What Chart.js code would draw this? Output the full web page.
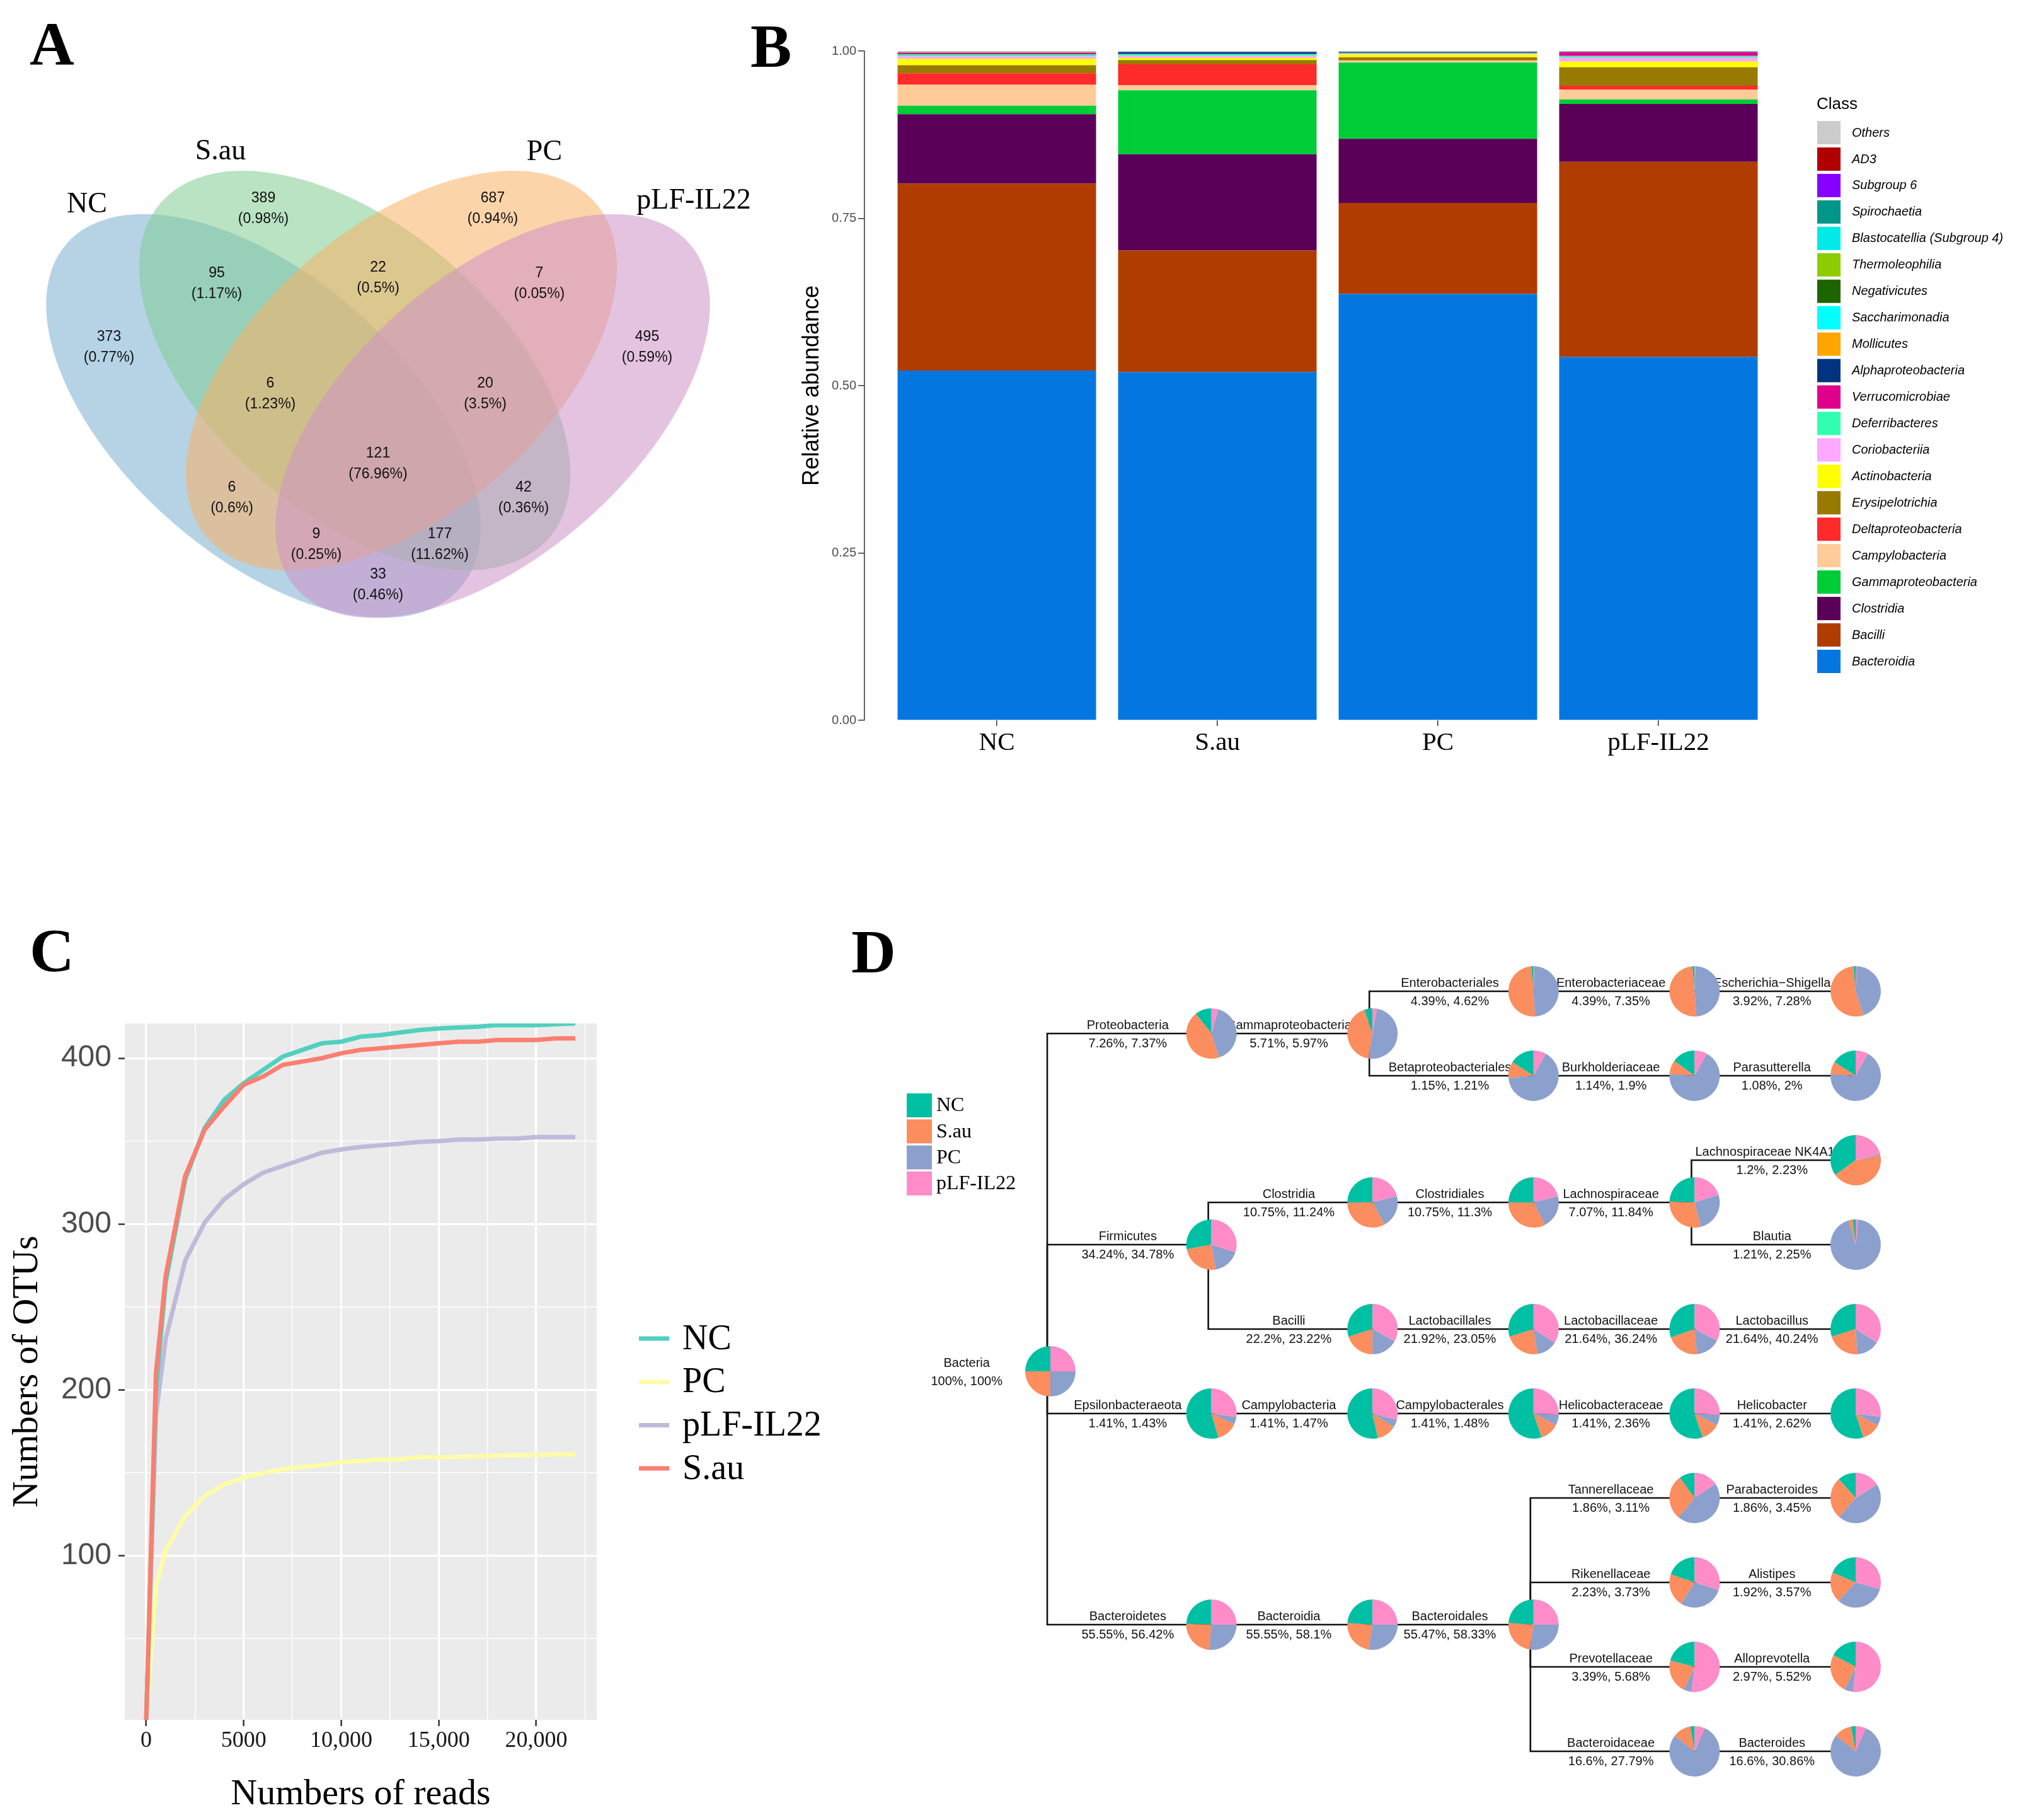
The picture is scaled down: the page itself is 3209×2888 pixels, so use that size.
<!DOCTYPE html>
<html>
<head>
<meta charset="utf-8">
<script src="https://cdn.jsdelivr.net/npm/chart.js@4.4.1/dist/chart.umd.min.js"></script>
<style>
body{margin:0;background:#fff;}
#page{position:relative;width:3209px;height:2888px;overflow:hidden;background:#fff;}
canvas{position:absolute;}
.letter{position:absolute;font-family:"Liberation Serif","Times New Roman",serif;font-weight:bold;font-size:98px;line-height:1;color:#000;}
</style>
</head>
<body>
<div id="page">
<div class="letter" style="left:47px;top:20px">A</div>
<div class="letter" style="left:1191px;top:24px">B</div>
<div class="letter" style="left:47px;top:1459px">C</div>
<div class="letter" style="left:1351px;top:1461px">D</div>
<canvas id="venn" width="1200" height="1000" style="left:0;top:0"></canvas>
<canvas id="bars" width="2029" height="1260" style="left:1180px;top:0"></canvas>
<canvas id="rare" width="1350" height="1438" style="left:0;top:1450px"></canvas>
<canvas id="tree" width="1859" height="1438" style="left:1350px;top:1450px"></canvas>
</div>
<script>
Chart.defaults.font.family = '"Liberation Sans", Arial, sans-serif';

// ---------- data ----------

// A: venn
const vennSets = ['NC', 'S.au', 'PC', 'pLF-IL22'];
const vennRegions = ['NC', 'S.au', 'PC', 'pLF-IL22', 'NC&S.au', 'S.au&PC', 'PC&pLF-IL22',
    'NC&S.au&PC', 'S.au&PC&pLF-IL22', 'all', 'NC&PC', 'S.au&pLF-IL22',
    'NC&PC&pLF-IL22', 'NC&S.au&pLF-IL22', 'NC&pLF-IL22'];
const vennCounts = [373, 389, 687, 495, 95, 22, 7, 6, 20, 121, 6, 42, 9, 177, 33];
const vennPercents = ['0.77%', '0.98%', '0.94%', '0.59%', '1.17%', '0.5%', '0.05%',
    '1.23%', '3.5%', '76.96%', '0.6%', '0.36%', '0.25%', '11.62%', '0.46%'];

// B: relative abundance, classes from bottom of the stack to top
const groups = ['NC', 'S.au', 'PC', 'pLF-IL22'];
const classes = ['Bacteroidia', 'Bacilli', 'Clostridia', 'Gammaproteobacteria', 'Campylobacteria',
    'Deltaproteobacteria', 'Erysipelotrichia', 'Actinobacteria', 'Coriobacteriia', 'Deferribacteres',
    'Verrucomicrobiae', 'Alphaproteobacteria', 'Mollicutes', 'Saccharimonadia', 'Negativicutes',
    'Thermoleophilia', 'Blastocatellia (Subgroup 4)', 'Spirochaetia', 'Subgroup 6', 'AD3', 'Others'];
const abundNC = [0.5227, 0.2793, 0.1036, 0.0126, 0.0314, 0.0173, 0.0119, 0.0094, 0.0038, 0.0028,
    0.0025, 0.0003, 0.0002, 0.0002, 0.0002, 0.0001, 0.0001, 0.0002, 0.0001, 0.0001, 0.0011];
const abundSau = [0.5205, 0.1814, 0.1440, 0.0955, 0.0075, 0.0314, 0.0063, 0.0031, 0.0031, 0.0025,
    0.0005, 0.0025, 0.0001, 0.0001, 0.0001, 0.0001, 0.0001, 0.0001, 0.0001, 0.0001, 0.0009];
const abundPC = [0.6370, 0.1360, 0.0958, 0.1140, 0.0031, 0.0005, 0.0041, 0.0044, 0.0010, 0.0008,
    0.0003, 0.0012, 0.0002, 0.0001, 0.0002, 0.0001, 0.0001, 0.0004, 0.0001, 0.0001, 0.0005];
const abundPLF = [0.5428, 0.2916, 0.0865, 0.0069, 0.0148, 0.0056, 0.0276, 0.0085, 0.0063, 0.0022,
    0.0056, 0.0002, 0.0001, 0.0001, 0.0001, 0.0001, 0.0001, 0.0002, 0.0001, 0.0001, 0.0005];
const yTicksB = [0, 0.25, 0.5, 0.75, 1];

// C: rarefaction curves
const curveNames = ['NC', 'PC', 'pLF-IL22', 'S.au'];
const readDepth = [1, 500, 1000, 2000, 3000, 4000, 5000, 6000, 7000, 8000, 9000, 10000, 11000,
    12000, 13000, 14000, 15000, 16000, 17000, 18000, 19000, 20000, 21000, 22000];
const otuNC = [1, 200, 265, 327, 358, 375, 385, 393, 401, 405, 409, 410, 413, 414, 415.5, 417,
    418, 418.5, 419, 420, 420, 420, 420.5, 421];
const otuPC = [1, 82, 103, 124, 136, 143, 147, 150, 152, 153.5, 154.5, 156.5, 157, 158, 158,
    159.5, 159.3, 159.6, 160, 160.3, 160.6, 160.6, 161, 161];
const otuPLF = [1, 185, 231, 278, 301, 315, 324, 331, 335, 339, 343, 345, 346.5, 347.5, 348.5,
    349.5, 350, 351, 351, 351.5, 351.5, 352.5, 352.5, 352.5];
const otuSau = [1, 210, 269, 329, 357, 371, 384, 389, 396, 398, 400, 403, 405, 406, 407, 408,
    409, 410, 410, 411, 411, 411, 412, 412];
const xTicksC = [0, 2500, 5000, 7500, 10000, 12500, 15000, 17500, 20000, 22500];
const yTicksC = [50, 100, 150, 200, 250, 300, 350, 400];

// D: taxonomy tree, parent -1 is the root
const treeNames = ['Bacteria', 'Proteobacteria', 'Gammaproteobacteria', 'Enterobacteriales',
    'Enterobacteriaceae', 'Escherichia\u2212Shigella', 'Betaproteobacteriales', 'Burkholderiaceae',
    'Parasutterella', 'Firmicutes', 'Clostridia', 'Clostridiales', 'Lachnospiraceae',
    'Lachnospiraceae NK4A136', 'Blautia', 'Bacilli', 'Lactobacillales', 'Lactobacillaceae',
    'Lactobacillus', 'Epsilonbacteraeota', 'Campylobacteria', 'Campylobacterales',
    'Helicobacteraceae', 'Helicobacter', 'Bacteroidetes', 'Bacteroidia', 'Bacteroidales',
    'Tannerellaceae', 'Parabacteroides', 'Rikenellaceae', 'Alistipes', 'Prevotellaceae',
    'Alloprevotella', 'Bacteroidaceae', 'Bacteroides'];
const treePercents = ['100%, 100%', '7.26%, 7.37%', '5.71%, 5.97%', '4.39%, 4.62%', '4.39%, 7.35%',
    '3.92%, 7.28%', '1.15%, 1.21%', '1.14%, 1.9%', '1.08%, 2%', '34.24%, 34.78%', '10.75%, 11.24%',
    '10.75%, 11.3%', '7.07%, 11.84%', '1.2%, 2.23%', '1.21%, 2.25%', '22.2%, 23.22%',
    '21.92%, 23.05%', '21.64%, 36.24%', '21.64%, 40.24%', '1.41%, 1.43%', '1.41%, 1.47%',
    '1.41%, 1.48%', '1.41%, 2.36%', '1.41%, 2.62%', '55.55%, 56.42%', '55.55%, 58.1%',
    '55.47%, 58.33%', '1.86%, 3.11%', '1.86%, 3.45%', '2.23%, 3.73%', '1.92%, 3.57%',
    '3.39%, 5.68%', '2.97%, 5.52%', '16.6%, 27.79%', '16.6%, 30.86%'];
const treeParents = [-1, 0, 1, 2, 3, 4, 2, 6, 7, 0, 9, 10, 11, 12, 12, 9, 15, 16, 17, 0, 19, 20,
    21, 22, 0, 24, 25, 26, 27, 26, 29, 26, 31, 26, 33];
const pieGroups = ['NC', 'S.au', 'PC', 'pLF-IL22'];
const shareNC = [25, 10.7, 5.3, 1.5, 1.5, 1.5, 16, 15, 16, 28, 25, 25, 24.5, 35, 2, 30, 30, 30.5,
    30, 54.5, 53.5, 55.3, 55.3, 55, 24.5, 24, 24, 10, 11.7, 19.9, 18.7, 21, 17.3, 2.8, 3];
const shareSau = [25, 44.2, 42.2, 49.5, 49.7, 53.5, 10.5, 9, 8, 24.7, 33, 32.5, 29.5, 43, 2.5, 20,
    22.5, 21, 21, 13.5, 12.5, 12.2, 12, 12, 24, 23.5, 23.7, 29, 27, 21, 19.3, 22, 25.5, 11.6, 11.2];
const sharePC = [25, 40.7, 49.7, 48.5, 48.3, 44.5, 65.5, 68, 68, 17.3, 21, 21.5, 26, 1, 94, 17,
    13.5, 16, 15, 4.8, 5, 7, 7, 6, 26.5, 27.5, 27.3, 45.5, 45.3, 29.4, 32.8, 5, 5.5, 79.1, 79.3];
const sharePLF = [25, 4.4, 2.8, 0.5, 0.5, 0.5, 8, 8, 8, 30, 21, 21, 20, 21, 1.5, 33, 34, 32.5, 34,
    27.2, 29, 25.5, 25.7, 27, 25, 25, 25, 15.5, 16, 29.7, 29.2, 52, 51.7, 6.5, 6.5];

// ---------- A: venn ----------

// label spots and ellipse shapes, in canvas pixels
const vennLabelPos = [[173, 551], [418, 331], [782, 331], [1027, 551], [344, 450], [600, 441],
    [856, 450], [429, 625], [770, 625], [600, 736], [368, 790], [831, 790], [502, 864],
    [698, 864], [600, 928]];
const vennSetPos = [[138, 325], [350, 241], [864, 242], [1101, 319]];
const vennShapes = [
    {cx: 418, cy: 660, a: 415, b: 222, rot: 41.2, color: 'rgba(122,174,210,0.55)'},
    {cx: 563, cy: 588, a: 407, b: 228, rot: 40.8, color: 'rgba(128,204,146,0.55)'},
    {cx: 637, cy: 588, a: 407, b: 228, rot: -40.8, color: 'rgba(250,176,100,0.55)'},
    {cx: 782, cy: 660, a: 415, b: 222, rot: -41.2, color: 'rgba(206,146,200,0.55)'}
];

const vennPlugin = {
    id: 'vennShapes',
    beforeDatasetsDraw(chart){
        let ctx = chart.ctx;
        let xs = chart.scales.x, ys = chart.scales.y;
        let k = xs.getPixelForValue(1) - xs.getPixelForValue(0);
        vennShapes.forEach(s => {
            ctx.save();
            ctx.beginPath();
            ctx.ellipse(xs.getPixelForValue(s.cx), ys.getPixelForValue(s.cy),
                s.a * k, s.b * k, s.rot * Math.PI / 180, 0, 2 * Math.PI);
            ctx.fillStyle = s.color;
            ctx.fill();
            ctx.restore();
        });
    },
    afterDatasetsDraw(chart){
        let ctx = chart.ctx;
        ctx.save();
        ctx.fillStyle = '#111';
        ctx.textAlign = 'center';
        ctx.textBaseline = 'middle';
        ctx.font = '23px "Liberation Sans"';
        chart.getDatasetMeta(0).data.forEach((p, i) => {
            ctx.fillText(String(vennCounts[i]), p.x, p.y - 16);
            ctx.fillText('(' + vennPercents[i] + ')', p.x, p.y + 17);
        });
        ctx.fillStyle = '#000';
        ctx.font = '46px "Liberation Serif"';
        chart.getDatasetMeta(1).data.forEach((p, i) => {
            ctx.fillText(vennSets[i], p.x, p.y);
        });
        ctx.restore();
    }
};

new Chart(document.getElementById('venn'), {
    type: 'scatter',
    data: {
        datasets: [
            {label: 'regions', data: vennLabelPos.map((p, i) => ({x: p[0], y: p[1], r: vennRegions[i]})), pointRadius: 0},
            {label: 'sets', data: vennSetPos.map(p => ({x: p[0], y: p[1]})), pointRadius: 0}
        ]
    },
    options: {
        responsive: false, devicePixelRatio: 1, animation: false,
        layout: {padding: 0},
        plugins: {legend: {display: false}, tooltip: {enabled: false}},
        scales: {
            x: {type: 'linear', min: 0, max: 1200, display: false},
            y: {type: 'linear', min: 0, max: 1000, reverse: true, display: false}
        }
    },
    plugins: [vennPlugin]
});

// ---------- B: stacked bars ----------

const classColors = ['#0377DF', '#B03C00', '#5A0058', '#00CC38', '#FFCC99', '#FF2A2A', '#997A00',
    '#FFFF00', '#FFA8FF', '#33FFB1', '#E0008C', '#003380', '#FFA500', '#00FFFF', '#1E6400',
    '#8CCC00', '#00EAEA', '#009689', '#8800FF', '#B00000', '#CCCCCC'];

const classLegend = {
    id: 'classLegend',
    afterDraw(chart){
        let ctx = chart.ctx;
        let sets = chart.data.datasets.slice().reverse();
        ctx.save();
        ctx.fillStyle = '#000';
        ctx.textBaseline = 'middle';
        ctx.textAlign = 'left';
        ctx.font = '26px "Liberation Sans"';
        ctx.fillText('Class', 1703, 166);
        ctx.font = 'italic 20px "Liberation Sans"';
        sets.forEach((ds, i) => {
            let top = 192 + i * 41.95;
            ctx.fillStyle = ds.backgroundColor;
            ctx.fillRect(1704, top, 37, 37);
            ctx.fillStyle = '#000';
            ctx.fillText(ds.label, 1759, top + 19);
        });
        ctx.restore();
    }
};

let abundByGroup = [abundNC, abundSau, abundPC, abundPLF];

new Chart(document.getElementById('bars'), {
    type: 'bar',
    data: {
        datasets: classes.map((c, i) => ({
            label: c,
            data: abundByGroup.map((vals, j) => ({x: j + 1, y: vals[i]})),
            backgroundColor: classColors[i],
            borderWidth: 0,
            barPercentage: 0.9,
            categoryPercentage: 1
        }))
    },
    options: {
        responsive: false, devicePixelRatio: 1, animation: false,
        layout: {padding: {top: 81, right: 367, left: 0, bottom: 0}},
        plugins: {legend: {display: false}, tooltip: {enabled: false}},
        scales: {
            x: {
                type: 'linear', stacked: true, min: 0.4, max: 4.6, offset: false,
                afterBuildTicks: s => { s.ticks = groups.map((g, i) => ({value: i + 1})); },
                afterFit: s => { s.height = 117; },
                ticks: {
                    callback: v => groups[v - 1],
                    font: {family: '"Liberation Serif"', size: 41},
                    color: '#000', padding: 3, autoSkip: false, maxRotation: 0
                },
                grid: {offset: false, drawOnChartArea: false, drawTicks: true, tickLength: 9, color: '#333', lineWidth: 1.5},
                border: {display: false}
            },
            y: {
                stacked: true, min: 0, max: 1,
                afterBuildTicks: s => { s.ticks = yTicksB.map(v => ({value: v})); },
                afterFit: s => { s.width = 192; },
                ticks: {
                    callback: v => v.toFixed(2),
                    font: {size: 20}, color: '#4D4D4D', padding: 3
                },
                grid: {drawOnChartArea: false, drawTicks: true, tickLength: 10, color: '#333', lineWidth: 1.5},
                border: {display: true, color: '#333', width: 1.5},
                title: {display: true, text: 'Relative abundance', font: {size: 36}, color: '#000', padding: {top: 87, bottom: 0}}
            }
        }
    },
    plugins: [classLegend]
});

// ---------- C: rarefaction ----------

const curveColors = ['#52D0BF', '#FFFCA8', '#BEBADA', '#FA7F6F'];
const curveOrder = [1, 3, 2, 0];

const greyPanel = {
    id: 'greyPanel',
    beforeDraw(chart){
        let a = chart.chartArea;
        let ctx = chart.ctx;
        ctx.save();
        ctx.fillStyle = '#EBEBEB';
        ctx.fillRect(a.left, a.top, a.right - a.left, a.bottom - a.top);
        ctx.restore();
    }
};

const curveLegend = {
    id: 'curveLegend',
    afterDraw(chart){
        let ctx = chart.ctx;
        ctx.save();
        ctx.textBaseline = 'middle';
        ctx.textAlign = 'left';
        ctx.font = '56px "Liberation Serif"';
        chart.data.datasets.forEach((ds, i) => {
            let y = 674 + i * 68.7;
            ctx.strokeStyle = ds.borderColor;
            ctx.lineWidth = 7;
            ctx.beginPath();
            ctx.moveTo(1014, y);
            ctx.lineTo(1062, y);
            ctx.stroke();
            ctx.fillStyle = '#000';
            ctx.fillText(ds.label, 1083, y + 2);
        });
        ctx.restore();
    }
};

let curveValues = [otuNC, otuPC, otuPLF, otuSau];

new Chart(document.getElementById('rare'), {
    type: 'line',
    data: {
        datasets: curveNames.map((n, i) => ({
            label: n,
            data: readDepth.map((d, j) => ({x: d, y: curveValues[i][j]})),
            borderColor: curveColors[i],
            borderWidth: 7,
            pointRadius: 0,
            tension: 0,
            order: curveOrder[i]
        }))
    },
    options: {
        responsive: false, devicePixelRatio: 1, animation: false,
        layout: {padding: {top: 174, right: 403, left: 0, bottom: 0}},
        plugins: {legend: {display: false}, tooltip: {enabled: false}},
        scales: {
            x: {
                type: 'linear', min: -1100, max: 23100,
                afterBuildTicks: s => { s.ticks = xTicksC.map(v => ({value: v})); },
                afterFit: s => { s.height = 159; },
                ticks: {
                    callback: v => v % 5000 !== 0 ? '' : (v < 10000 ? String(v) : v.toLocaleString('en-US')),
                    font: {family: '"Liberation Serif"', size: 36}, color: '#1a1a1a',
                    padding: 2, autoSkip: false, maxRotation: 0
                },
                grid: {
                    color: '#FFFFFF',
                    lineWidth: c => (c.tick && c.tick.value % 5000 === 0) ? 3.2 : 1.6,
                    tickColor: c => (c.tick && c.tick.value % 5000 === 0) ? '#333' : 'rgba(0,0,0,0)',
                    tickWidth: 2.5, tickLength: 10
                },
                border: {display: false},
                title: {display: true, text: 'Numbers of reads', font: {family: '"Liberation Serif"', size: 58}, color: '#000', padding: {top: 0, bottom: 5}}
            },
            y: {
                type: 'linear', min: 1, max: 421,
                afterBuildTicks: s => { s.ticks = yTicksC.map(v => ({value: v})); },
                afterFit: s => { s.width = 198; },
                ticks: {
                    callback: v => v % 100 === 0 ? String(v) : '',
                    font: {size: 48}, color: '#4D4D4D', padding: 11, autoSkip: false
                },
                grid: {
                    color: '#FFFFFF',
                    lineWidth: c => (c.tick && c.tick.value % 100 === 0) ? 3.2 : 1.6,
                    tickColor: c => (c.tick && c.tick.value % 100 === 0) ? '#333' : 'rgba(0,0,0,0)',
                    tickWidth: 2.5, tickLength: 10
                },
                border: {display: false},
                title: {display: true, text: 'Numbers of OTUs', font: {family: '"Liberation Serif"', size: 58}, color: '#000', padding: {top: 9, bottom: 0}}
            }
        }
    },
    plugins: [greyPanel, curveLegend]
});

// ---------- D: tree with pies ----------

const pieColors = ['#00C0A3', '#FC8D5E', '#8BA0CC', '#FF8BC8'];

// depth of each node and row from the mean of its leaves (leaves two rows apart)
let treeDepth = treeParents.map((p, i) => {
    let d = 0;
    while (treeParents[i] !== -1) { i = treeParents[i]; d++; }
    return d;
});
let treeRows = new Array(treeNames.length);
let nextLeaf = 0;
function placeNode(i){
    let kids = [];
    treeParents.forEach((p, j) => { if (p === i) kids.push(j); });
    if (kids.length === 0) {
        treeRows[i] = nextLeaf;
        nextLeaf += 2;
        return [treeRows[i]];
    }
    let leaves = [];
    kids.forEach(k => { leaves = leaves.concat(placeNode(k)); });
    treeRows[i] = leaves.reduce((a, b) => a + b, 0) / leaves.length;
    return leaves;
}
placeNode(0);

const treePlugin = {
    id: 'treePies',
    beforeDatasetsDraw(chart){
        let ctx = chart.ctx;
        let pts = chart.getDatasetMeta(0).data;
        let xs = chart.scales.x;
        ctx.save();
        ctx.strokeStyle = '#111';
        ctx.lineWidth = 2.6;
        ctx.lineCap = 'square';
        // branches
        treeParents.forEach((p, i) => {
            if (p < 0) return;
            ctx.beginPath();
            ctx.moveTo(pts[p].x, pts[p].y);
            ctx.lineTo(pts[p].x, pts[i].y);
            ctx.lineTo(pts[i].x, pts[i].y);
            ctx.stroke();
        });
        // names above the branch, percentages below
        ctx.fillStyle = '#111';
        ctx.textAlign = 'center';
        ctx.textBaseline = 'middle';
        ctx.font = '20px "Liberation Sans"';
        treeNames.forEach((n, i) => {
            let px = treeParents[i] < 0 ? xs.getPixelForValue(treeDepth[i] - 1) : pts[treeParents[i]].x;
            let mid = (px + pts[i].x) / 2;
            ctx.fillText(n, mid, pts[i].y - 13);
            ctx.fillText(treePercents[i], mid, pts[i].y + 16);
        });
        ctx.restore();
    },
    afterDatasetsDraw(chart){
        let ctx = chart.ctx;
        let pts = chart.getDatasetMeta(0).data;
        let shares = [shareNC, shareSau, sharePC, sharePLF];
        ctx.save();
        pts.forEach((pt, i) => {
            let cx = pt.x + 5, cy = pt.y, r = 40;
            let total = shares.reduce((a, s) => a + s[i], 0);
            let start = -Math.PI / 2;
            shares.forEach((s, k) => {
                let sweep = s[i] / total * 2 * Math.PI;
                ctx.beginPath();
                ctx.moveTo(cx, cy);
                ctx.arc(cx, cy, r, start, start - sweep, true);
                ctx.closePath();
                ctx.fillStyle = pieColors[k];
                ctx.fill();
                start -= sweep;
            });
        });
        // group key
        ctx.textAlign = 'left';
        ctx.textBaseline = 'middle';
        ctx.font = '32px "Liberation Serif"';
        pieGroups.forEach((g, k) => {
            let top = 285 + k * 41.3;
            ctx.fillStyle = pieColors[k];
            ctx.fillRect(89, top, 40, 38);
            ctx.fillStyle = '#000';
            ctx.fillText(g, 136, top + 20);
        });
        ctx.restore();
    }
};

new Chart(document.getElementById('tree'), {
    type: 'scatter',
    data: {
        datasets: [{
            label: 'taxa',
            data: treeNames.map((n, i) => ({x: treeDepth[i], y: treeRows[i]})),
            pointRadius: 0
        }]
    },
    options: {
        responsive: false, devicePixelRatio: 1, animation: false,
        layout: {padding: 0},
        plugins: {legend: {display: false}, tooltip: {enabled: false}},
        scales: {
            x: {type: 'linear', min: -1.2207, max: 6.0524, display: false},
            y: {type: 'linear', min: -1.8358, max: 19.627, reverse: true, display: false}
        }
    },
    plugins: [treePlugin]
});
</script>
</body>
</html>
